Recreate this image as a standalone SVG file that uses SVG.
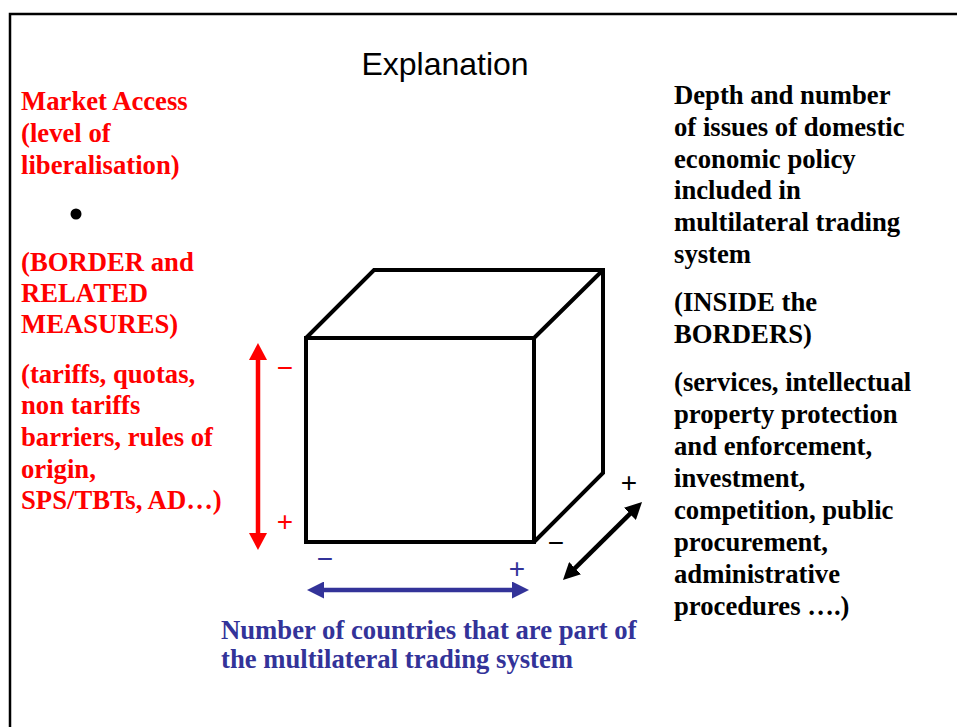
<svg xmlns="http://www.w3.org/2000/svg" width="957" height="727" viewBox="0 0 957 727">
<style>
.t{font-family:"Liberation Serif","Times New Roman",serif;font-weight:bold;font-size:26.7px}
.red{fill:#FF0000}
.blk{fill:#000}
.blu{fill:#333399}
.sign{font-family:"Liberation Sans",Arial,sans-serif;font-size:28px}
.cube{fill:none;stroke:#000;stroke-width:4;stroke-linejoin:miter}
</style>
<defs>
<marker id="hr" markerUnits="userSpaceOnUse" markerWidth="18" markerHeight="18" viewBox="0 0 17 18" refX="5" refY="9" orient="auto-start-reverse"><path d="M0,0 L17,9 L0,18 z" fill="#FF0000"/></marker>
<marker id="hb" markerUnits="userSpaceOnUse" markerWidth="17" markerHeight="17" viewBox="0 0 17 17" refX="5" refY="8.5" orient="auto-start-reverse"><path d="M0,0 L17,8.5 L0,17 z" fill="#333399"/></marker>
<marker id="hk" markerUnits="userSpaceOnUse" markerWidth="17" markerHeight="17" viewBox="0 0 17 17" refX="5" refY="8.5" orient="auto-start-reverse"><path d="M0,0 L17,8.5 L0,17 z" fill="#000"/></marker>
</defs>
<rect width="957" height="727" fill="#fff"/>
<g id="frame"><path d="M10,727 V14 H957" fill="none" stroke="#000" stroke-width="2.5"/></g>
<g id="title"><text x="445" y="75" text-anchor="middle" style="font-family:'Liberation Sans',Arial,sans-serif;font-size:32px" fill="#000">Explanation</text></g>
<g id="left-text">
<text x="21" y="110" class="t red">Market Access</text>
<text x="21" y="142" class="t red">(level of</text>
<text x="21" y="174" class="t red">liberalisation)</text>
<text x="21" y="271" class="t red">(BORDER and</text>
<text x="21" y="302" class="t red">RELATED</text>
<text x="21" y="333" class="t red">MEASURES)</text>
<text x="21" y="383" class="t red">(tariffs, quotas,</text>
<text x="21" y="414" class="t red">non tariffs</text>
<text x="21" y="446" class="t red">barriers, rules of</text>
<text x="21" y="478" class="t red">origin,</text>
<text x="21" y="509" class="t red">SPS/TBTs, AD…)</text>
</g>
<g id="bullet"><circle cx="76" cy="214" r="5.5" fill="#000"/></g>
<g id="right-text">
<text x="674" y="104" class="t blk">Depth and number</text>
<text x="674" y="136" class="t blk">of issues of domestic</text>
<text x="674" y="168" class="t blk">economic policy</text>
<text x="674" y="199" class="t blk">included in</text>
<text x="674" y="231" class="t blk">multilateral trading</text>
<text x="674" y="263" class="t blk">system</text>
<text x="674" y="311" class="t blk">(INSIDE the</text>
<text x="674" y="343" class="t blk">BORDERS)</text>
<text x="674" y="391" class="t blk">(services, intellectual</text>
<text x="674" y="423" class="t blk">property protection</text>
<text x="674" y="455" class="t blk">and enforcement,</text>
<text x="674" y="487" class="t blk">investment,</text>
<text x="674" y="519" class="t blk">competition, public</text>
<text x="674" y="551" class="t blk">procurement,</text>
<text x="674" y="583" class="t blk">administrative</text>
<text x="674" y="615" class="t blk">procedures ….)</text>
</g>
<g id="bottom-text">
<text x="221" y="639" class="t blu">Number of countries that are part of</text>
<text x="221" y="668" class="t blu">the multilateral trading system</text>
</g>
<g id="cube">
<rect x="306" y="338" width="228" height="204" class="cube"/>
<path d="M306,338 L374,270 L603,270 L603,473 L534,542 M534,338 L603,270" class="cube"/>
</g>
<g id="signs">
<text x="285" y="377" text-anchor="middle" class="sign red">−</text>
<text x="285" y="531" text-anchor="middle" class="sign red">+</text>
<text x="325" y="568" text-anchor="middle" class="sign blu">−</text>
<text x="517" y="578" text-anchor="middle" class="sign blu">+</text>
<text x="556" y="552" text-anchor="middle" class="sign blk">−</text>
<text x="629" y="492" text-anchor="middle" class="sign blk">+</text>
</g>
<g id="connectors">
<line x1="258" y1="355" x2="258" y2="538" stroke="#FF0000" stroke-width="4.5" marker-start="url(#hr)" marker-end="url(#hr)"/>
<line x1="319" y1="590" x2="517" y2="590" stroke="#333399" stroke-width="4.5" marker-start="url(#hb)" marker-end="url(#hb)"/>
<line x1="571.5" y1="571.6" x2="633.5" y2="510.4" stroke="#000" stroke-width="4.5" marker-start="url(#hk)" marker-end="url(#hk)"/>
</g>
</svg>
